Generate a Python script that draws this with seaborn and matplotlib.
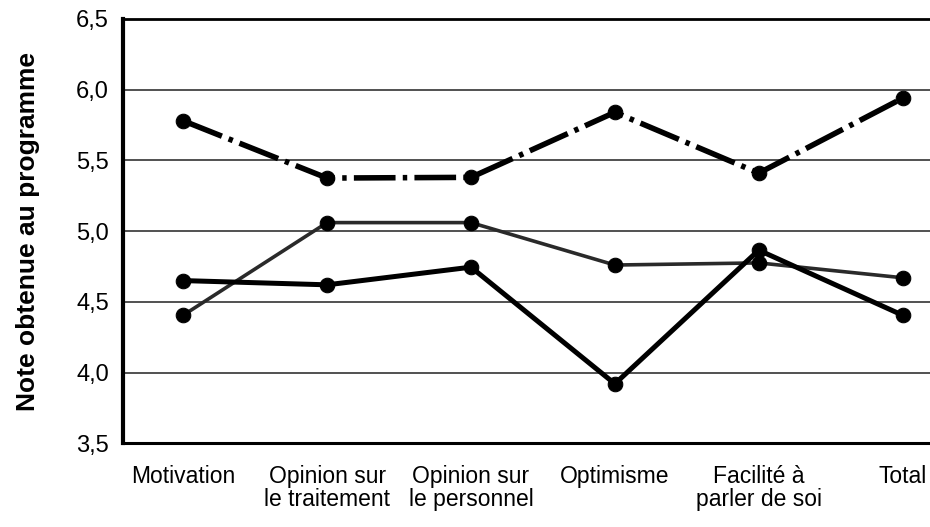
import matplotlib
matplotlib.use("Agg")
import matplotlib.pyplot as plt
import seaborn as sns
import pandas as pd

categories = ["Motivation", "Opinion sur\nle traitement", "Opinion sur\nle personnel",
              "Optimisme", "Facilité à\nparler de soi", "Total"]
serie_tiret = [5.78, 5.375, 5.38, 5.84, 5.41, 5.94]
serie_a = [4.65, 4.62, 4.745, 3.92, 4.865, 4.405]
serie_b = [4.405, 5.06, 5.06, 4.76, 4.775, 4.67]
yticks = [3.5, 4.0, 4.5, 5.0, 5.5, 6.0, 6.5]
ytick_labels = ["3,5", "4,0", "4,5", "5,0", "5,5", "6,0", "6,5"]

sns.set_theme(style="white")
plt.rcParams['font.family'] = ['Liberation Sans', 'DejaVu Sans']
plt.rcParams['text.color'] = 'black'
plt.rcParams['axes.labelcolor'] = 'black'
plt.rcParams['xtick.color'] = 'black'
plt.rcParams['ytick.color'] = 'black'

fig = plt.figure(figsize=(9.3, 5.27), dpi=100)
ax = fig.add_axes([0.132, 0.159, 0.868, 0.805])

df = pd.DataFrame({"cat": categories, "t": serie_tiret, "a": serie_a, "b": serie_b})

for y in yticks[1:-1]:
    ax.axhline(y, color="#222222", lw=1.1, zorder=1)

sns.lineplot(data=df, x="cat", y="b", ax=ax, color="#2a2a2a", lw=2.6, marker="o",
             markersize=10.5, markeredgecolor="black", markerfacecolor="black", sort=False, zorder=3)
sns.lineplot(data=df, x="cat", y="a", ax=ax, color="black", lw=3.6, marker="o",
             markersize=10.5, markeredgecolor="black", markerfacecolor="black", sort=False, zorder=4)
sns.lineplot(data=df, x="cat", y="t", ax=ax, color="black", lw=4, marker="o",
             markersize=10.5, markeredgecolor="black", markerfacecolor="black", sort=False, zorder=5)
ax.lines[-1].set_dashes([7.5, 1.3, 0.8, 1.3])

ax.set_xlim(-0.42, 5.19)
ax.set_ylim(3.5, 6.5)
ax.set_yticks(yticks)
ax.set_yticklabels(ytick_labels, fontsize=17, color="black")
ax.set_xticks(range(len(categories)))
ax.set_xticklabels(categories, fontsize=16.5, linespacing=0.95, color="black")
ax.tick_params(axis="y", length=0, pad=10)
ax.tick_params(axis="x", length=0, pad=16)
ax.set_xlabel("")
ax.set_ylabel("Note obtenue au programme", fontsize=19, fontweight="bold", color="black")
ax.yaxis.label.set_va("center")
ax.yaxis.set_label_coords(-0.117, 0.5)

for s in ["left", "top", "bottom"]:
    ax.spines[s].set_color("black")
ax.spines["left"].set_linewidth(3)
ax.spines["top"].set_linewidth(2)
ax.spines["bottom"].set_linewidth(2.2)
ax.spines["right"].set_visible(False)

fig.savefig("out.png", dpi=100, facecolor="white")
